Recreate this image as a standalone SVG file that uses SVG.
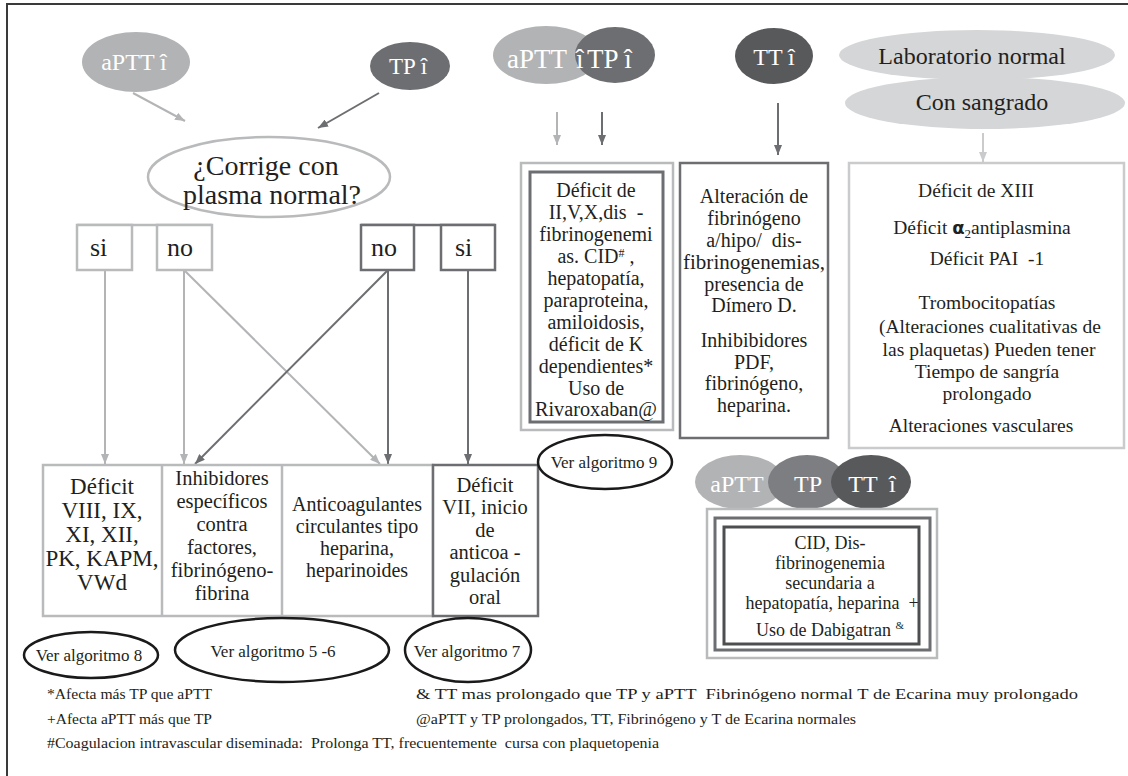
<svg xmlns="http://www.w3.org/2000/svg" width="1128" height="776" viewBox="0 0 1128 776">
<defs>
<marker id="ahL" markerWidth="10" markerHeight="8" refX="10" refY="4" orient="auto" markerUnits="userSpaceOnUse"><path d="M0,0 L10,4 L0,8 z" fill="#b3b4b6"/></marker>
<marker id="ahD" markerWidth="10" markerHeight="8" refX="10" refY="4" orient="auto" markerUnits="userSpaceOnUse"><path d="M0,0 L10,4 L0,8 z" fill="#6d6e71"/></marker>
<marker id="ahX" markerWidth="10" markerHeight="8" refX="10" refY="4" orient="auto" markerUnits="userSpaceOnUse"><path d="M0,0 L10,4 L0,8 z" fill="#cacbcd"/></marker>
</defs>
<style>
text{font-family:"Liberation Serif","DejaVu Serif",serif;fill:#231f20}
.c{text-anchor:middle}
.w{fill:#ffffff}
.lbox{fill:#ffffff;stroke:#b9babc;stroke-width:2.5}
.dbox{fill:#ffffff;stroke:#6d6e71;stroke-width:2.5}
.cl{stroke:#b3b4b6;stroke-width:2;fill:none;marker-end:url(#ahL)}
.cd{stroke:#6d6e71;stroke-width:2;fill:none;marker-end:url(#ahD)}
.ver{fill:#ffffff;stroke:#1a1a1a;stroke-width:2.5}
.f{font-size:15px}
</style>
<rect width="1128" height="776" fill="#ffffff"/>
<g id="frame"><path d="M7,776 L7,4 L1128,4" fill="none" stroke="#3a3a3a" stroke-width="2"/></g>

<g id="connectors">
<line class="cl" x1="133" y1="93" x2="185" y2="121"/>
<line class="cd" x1="379" y1="93" x2="318" y2="128"/>
<line class="cl" x1="105" y1="270" x2="105" y2="464"/>
<line class="cl" x1="184" y1="270" x2="184" y2="464"/>
<line class="cl" x1="184" y1="270" x2="380" y2="464"/>
<line class="cd" x1="388" y1="270" x2="388" y2="464"/>
<line class="cd" x1="388" y1="270" x2="195" y2="464"/>
<line class="cd" x1="468" y1="270" x2="468" y2="464"/>
<line class="cl" x1="557" y1="112" x2="557" y2="145"/>
<line class="cd" x1="602" y1="112" x2="602" y2="145"/>
<line class="cd" x1="778" y1="103" x2="778" y2="155"/>
<line x1="983" y1="133" x2="983" y2="162" stroke="#cacbcd" stroke-width="2" marker-end="url(#ahX)"/>
</g>

<g id="aptt1"><ellipse cx="136" cy="62" rx="54" ry="30" fill="#b2b3b5"/><text class="w c" x="134" y="70" font-size="24">aPTT î</text></g>
<g id="tp1"><ellipse cx="410" cy="66" rx="40" ry="24" fill="#6d6e71"/><text class="w c" x="408" y="74" font-size="23">TP î</text></g>
<g id="corrige"><ellipse cx="269" cy="177" rx="121" ry="40" fill="#ffffff" stroke="#b9babc" stroke-width="2.5"/>
<text class="c" x="266" y="175" font-size="28">¿Corrige con</text><text class="c" x="272" y="204" font-size="28">plasma normal?</text></g>

<g id="sino-left"><path d="M77,225 L212,225" stroke="#b9babc" stroke-width="2.5"/>
<rect class="lbox" x="77" y="225" width="55" height="45"/><rect class="lbox" x="157" y="225" width="55" height="45"/>
<text x="90" y="256" font-size="26">si</text><text x="167" y="256" font-size="26">no</text></g>
<g id="sino-right"><path d="M361,225 L495,225" stroke="#6d6e71" stroke-width="2.5"/>
<rect class="dbox" x="361" y="225" width="53" height="45"/><rect class="dbox" x="441" y="225" width="54" height="45"/>
<text x="371" y="256" font-size="26">no</text><text x="455" y="256" font-size="26">si</text></g>

<g id="aptt-tp"><ellipse cx="546" cy="55" rx="53" ry="29" fill="#b2b3b5"/><ellipse cx="615" cy="55" rx="40" ry="28" fill="#6d6e71"/>
<text class="w" x="507" y="68" font-size="27">aPTT</text><text class="w" x="576" y="68" font-size="27">î</text><text class="w" x="587" y="68" font-size="27">TP î</text></g>
<g id="tt1"><ellipse cx="774" cy="56" rx="39" ry="28" fill="#58595b"/><text class="w c" x="774" y="65" font-size="24">TT î</text></g>
<g id="lab"><ellipse cx="977" cy="55" rx="138" ry="25" fill="#d5d6d8"/><ellipse cx="985" cy="103" rx="140" ry="26" fill="#d5d6d8"/>
<text class="c" x="972" y="64" font-size="24">Laboratorio normal</text><text class="c" x="982" y="110" font-size="24">Con sangrado</text></g>

<g id="deficit-ii"><rect class="lbox" x="521" y="163" width="152" height="267"/><rect x="530" y="172" width="133" height="250" fill="none" stroke="#6d6e71" stroke-width="3"/>
<g font-size="20">
<text class="c" x="596" y="197">Déficit de</text>
<text class="c" x="596" y="219" xml:space="preserve">II,V,X,dis  -</text>
<text class="c" x="596" y="241">fibrinogenemi</text>
<text class="c" x="596" y="263">as. CID<tspan font-size="12" dy="-6">#</tspan><tspan dy="6"> ,</tspan></text>
<text class="c" x="596" y="285">hepatopatía,</text>
<text class="c" x="596" y="307">paraproteina,</text>
<text class="c" x="596" y="329">amiloidosis,</text>
<text class="c" x="596" y="351">déficit de K</text>
<text class="c" x="596" y="373">dependientes*</text>
<text class="c" x="596" y="395">Uso de</text>
<text class="c" x="596" y="416" textLength="122" lengthAdjust="spacingAndGlyphs">Rivaroxaban@</text>
</g></g>

<g id="alteracion"><rect class="dbox" x="680" y="163" width="148" height="275"/>
<g font-size="20">
<text class="c" x="754" y="203">Alteración de</text>
<text class="c" x="754" y="225">fibrinógeno</text>
<text class="c" x="754" y="247" xml:space="preserve">a/hipo/  dis-</text>
<text class="c" x="754" y="269" textLength="142" lengthAdjust="spacingAndGlyphs">fibrinogenemias,</text>
<text class="c" x="754" y="291">presencia de</text>
<text class="c" x="754" y="312">Dímero D.</text>
<text class="c" x="754" y="347">Inhibibidores</text>
<text class="c" x="754" y="369">PDF,</text>
<text class="c" x="754" y="390">fibrinógeno,</text>
<text class="c" x="754" y="412">heparina.</text>
</g></g>

<g id="sangrado"><rect x="849" y="163" width="275" height="285" fill="#ffffff" stroke="#cacbcd" stroke-width="2.5"/>
<g font-size="19.5">
<text class="c" x="976" y="197">Déficit de XIII</text>
<text class="c" x="982" y="234">Déficit  <tspan font-family="DejaVu Sans,sans-serif" font-weight="bold" font-size="18">α</tspan><tspan font-size="13" dy="4">2</tspan><tspan dy="-4">antiplasmina</tspan></text>
<text class="c" x="987" y="265" xml:space="preserve">Déficit PAI  -1</text>
<text class="c" x="987" y="309">Trombocitopatías</text>
<text class="c" x="990" y="333">(Alteraciones cualitativas de</text>
<text class="c" x="989" y="356">las plaquetas) Pueden tener</text>
<text class="c" x="987" y="378">Tiempo de sangría</text>
<text class="c" x="987" y="400">prolongado</text>
<text class="c" x="981" y="432">Alteraciones vasculares</text>
</g></g>

<g id="bottom-boxes">
<rect class="lbox" x="43" y="465" width="390" height="151"/>
<line x1="162" y1="465" x2="162" y2="616" stroke="#b9babc" stroke-width="2.5"/>
<line x1="282" y1="465" x2="282" y2="616" stroke="#b9babc" stroke-width="2.5"/>
</g>
<g id="deficit-viii"><g font-size="23">
<text class="c" x="102" y="494">Déficit</text>
<text class="c" x="102" y="518">VIII, IX,</text>
<text class="c" x="102" y="542">XI, XII,</text>
<text class="c" x="102" y="566">PK, KAPM,</text>
<text class="c" x="102" y="590">VWd</text></g></g>
<g id="inhibidores"><g font-size="20.5">
<text class="c" x="222" y="485">Inhibidores</text>
<text class="c" x="222" y="508">específicos</text>
<text class="c" x="222" y="531">contra</text>
<text class="c" x="222" y="554">factores,</text>
<text class="c" x="222" y="577">fibrinógeno-</text>
<text class="c" x="222" y="600">fibrina</text></g></g>
<g id="anticoagulantes"><g font-size="20">
<text class="c" x="357" y="511">Anticoagulantes</text>
<text class="c" x="357" y="533">circulantes tipo</text>
<text class="c" x="357" y="555">heparina,</text>
<text class="c" x="357" y="577">heparinoides</text></g></g>
<g id="deficit-vii"><rect class="dbox" x="433" y="465" width="105" height="151"/>
<g font-size="20.5">
<text class="c" x="485" y="492">Déficit</text>
<text class="c" x="485" y="514">VII, inicio</text>
<text class="c" x="485" y="537">de</text>
<text class="c" x="485" y="559">anticoa -</text>
<text class="c" x="485" y="582">gulación</text>
<text class="c" x="485" y="604">oral</text></g></g>

<g id="ver9"><ellipse class="ver" cx="605" cy="462" rx="67" ry="27"/><text class="c" x="604" y="468" font-size="17">Ver algoritmo 9</text></g>
<g id="ver8"><ellipse class="ver" cx="91" cy="655" rx="67" ry="23"/><text class="c" x="89" y="661" font-size="17">Ver algoritmo 8</text></g>
<g id="ver56"><ellipse class="ver" cx="282" cy="650" rx="107" ry="32"/><text class="c" x="273" y="657" font-size="17">Ver algoritmo 5 -6</text></g>
<g id="ver7"><ellipse class="ver" cx="468" cy="650" rx="63" ry="32"/><text class="c" x="467" y="657" font-size="17">Ver algoritmo 7</text></g>

<g id="trio"><ellipse cx="740" cy="482" rx="45" ry="27" fill="#b2b3b5"/><ellipse cx="807" cy="482" rx="39" ry="27" fill="#7d7e81"/><ellipse cx="871" cy="482" rx="40" ry="27" fill="#58595b"/>
<text class="w c" x="737" y="492" font-size="24">aPTT</text><text class="w c" x="808" y="492" font-size="24">TP</text><text class="w c" x="872" y="492" font-size="24" xml:space="preserve">TT  î</text></g>
<g id="cid"><rect x="707" y="509" width="230" height="149" fill="#ffffff" stroke="#b9babc" stroke-width="2.5"/>
<rect x="715" y="518" width="215" height="132" fill="none" stroke="#6d6e71" stroke-width="3"/>
<rect x="724" y="527" width="195" height="117" fill="none" stroke="#4d4e50" stroke-width="3"/>
<g font-size="18">
<text class="c" x="830" y="549">CID, Dis-</text>
<text class="c" x="830" y="569">fibrinogenemia</text>
<text class="c" x="830" y="589">secundaria a</text>
<text class="c" x="832" y="609" xml:space="preserve">hepatopatía, heparina  +</text>
<text class="c" x="830" y="636">Uso de Dabigatran <tspan font-size="11" dy="-7">&amp;</tspan></text>
</g></g>

<g id="footnotes" class="f">
<text x="47" y="699" textLength="165" lengthAdjust="spacingAndGlyphs">*Afecta más TP que aPTT</text>
<text x="416" y="699" textLength="662" lengthAdjust="spacingAndGlyphs" xml:space="preserve">&amp; TT mas prolongado que TP y aPTT  Fibrinógeno normal T de Ecarina muy prolongado</text>
<text x="47" y="724" textLength="165" lengthAdjust="spacingAndGlyphs">+Afecta aPTT más que TP</text>
<text x="416" y="724" textLength="440" lengthAdjust="spacingAndGlyphs">@aPTT y TP prolongados, TT, Fibrinógeno y T de Ecarina normales</text>
<text x="47" y="748" textLength="612" lengthAdjust="spacingAndGlyphs" xml:space="preserve">#Coagulacion intravascular diseminada:  Prolonga TT, frecuentemente  cursa con plaquetopenia</text>
</g>
</svg>
